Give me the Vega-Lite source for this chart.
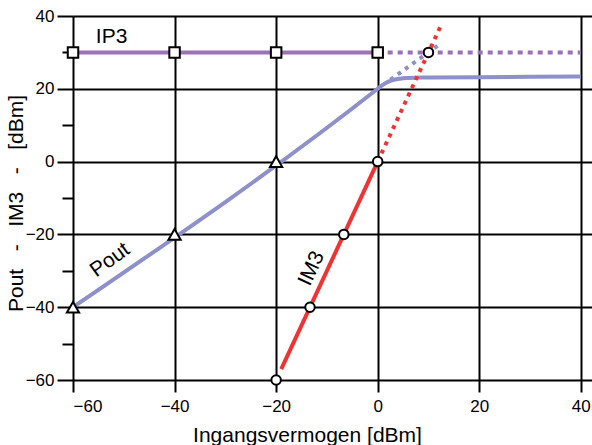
{
  "$schema": "https://vega.github.io/schema/vega-lite/v6.json",
  "autosize": "none",
  "width": 519,
  "height": 364,
  "padding": {"left": 73, "top": 16, "right": 0, "bottom": 65},
  "background": "white",
  "config": {
    "font": "Liberation Sans",
    "view": {"stroke": null}
  },
  "datasets": {
    "lines": [
      {"s": "ip3_solid", "x": -60, "y": 30}, {"s": "ip3_solid", "x": 0, "y": 30},
      {"s": "ip3_dot", "x": 0, "y": 30}, {"s": "ip3_dot", "x": 40, "y": 30},
      {"s": "pout_solid", "x": -60, "y": -40}, {"s": "pout_solid", "x": 0, "y": 20},
      {"s": "pout_solid", "x": 1, "y": 21.1}, {"s": "pout_solid", "x": 2, "y": 21.9},
      {"s": "pout_solid", "x": 3, "y": 22.4}, {"s": "pout_solid", "x": 4, "y": 22.7},
      {"s": "pout_solid", "x": 6, "y": 23.0}, {"s": "pout_solid", "x": 10, "y": 23.1},
      {"s": "pout_solid", "x": 20, "y": 23.2}, {"s": "pout_solid", "x": 40, "y": 23.4},
      {"s": "pout_dot", "x": 2.5, "y": 22.5}, {"s": "pout_dot", "x": 12.4, "y": 32.4},
      {"s": "im3_solid", "x": -19, "y": -57}, {"s": "im3_solid", "x": 0, "y": 0},
      {"s": "im3_dot", "x": 0, "y": 0}, {"s": "im3_dot", "x": 12.6, "y": 37.8}
    ],
    "points": [
      {"s": "square", "x": -60, "y": 30}, {"s": "square", "x": -40, "y": 30},
      {"s": "square", "x": -20, "y": 30}, {"s": "square", "x": 0, "y": 30},
      {"s": "triangle", "x": -60, "y": -40}, {"s": "triangle", "x": -40, "y": -20},
      {"s": "triangle", "x": -20, "y": 0},
      {"s": "circle", "x": -20, "y": -60}, {"s": "circle", "x": -13.33, "y": -40},
      {"s": "circle", "x": -6.67, "y": -20}, {"s": "circle", "x": 0, "y": 0},
      {"s": "circle", "x": 10, "y": 30}
    ],
    "labels": [
      {"t": "IP3", "x": -52.4, "y": 34.3, "a": 0},
      {"t": "Pout", "x": -52.7, "y": -27.1, "a": -36},
      {"t": "IM3", "x": -13, "y": -29.4, "a": -65}
    ]
  },
  "encoding": {
    "x": {
      "field": "x", "type": "quantitative",
      "scale": {"domain": [-60, 42.2], "nice": false, "zero": false},
      "axis": {
        "values": [-60, -40, -20, 0, 20, 40],
        "title": "Ingangsvermogen [dBm]",
        "titleFontSize": 21, "titleFontWeight": "normal", "titleColor": "black",
        "titleX": 234, "titleY": 61, "titleBaseline": "alphabetic",
        "labelFontSize": 17, "labelColor": "black", "labelPadding": 6,
        "tickSize": 12, "tickWidth": 2, "tickColor": "black",
        "grid": true, "gridColor": "black", "gridWidth": 2, "gridOpacity": 1,
        "domain": false
      }
    },
    "y": {
      "field": "y", "type": "quantitative",
      "scale": {"domain": [-60, 40], "nice": false, "zero": false},
      "axis": {
        "values": [-60, -50, -40, -30, -20, -10, 0, 10, 20, 30, 40],
        "labelExpr": "datum.value % 20 == 0 ? datum.label : ''",
        "title": "Pout\u00a0\u00a0\u00a0-\u00a0\u00a0\u00a0IM3\u00a0\u00a0\u00a0-\u00a0\u00a0\u00a0[dBm]",
        "titleFontSize": 21, "titleFontWeight": "normal", "titleColor": "black",
        "titleX": -57, "titleY": 187, "titleAngle": -90, "titleBaseline": "middle", "titleAlign": "center",
        "labelFontSize": 17, "labelColor": "black", "labelPadding": 3,
        "tickSize": {"condition": {"test": "datum.value % 20 == 0", "value": 16}, "value": 11},
        "tickWidth": 2, "tickColor": "black",
        "grid": true, "gridColor": "black", "gridWidth": 2,
        "gridOpacity": {"condition": {"test": "datum.value % 20 == 0", "value": 1}, "value": 0},
        "domain": false
      }
    }
  },
  "layer": [
    {
      "data": {"name": "lines"},
      "transform": [{"filter": "datum.s == 'ip3_solid'"}],
      "mark": {"type": "line", "color": "#9b72b5", "strokeWidth": 4}
    },
    {
      "data": {"name": "lines"},
      "transform": [{"filter": "datum.s == 'ip3_dot'"}],
      "mark": {"type": "line", "color": "#9b72b5", "strokeWidth": 4, "strokeDash": [5, 5]}
    },
    {
      "data": {"name": "lines"},
      "transform": [{"filter": "datum.s == 'pout_dot'"}],
      "mark": {"type": "line", "color": "#8d90c9", "strokeWidth": 4, "strokeDash": [4, 5]}
    },
    {
      "data": {"name": "lines"},
      "transform": [{"filter": "datum.s == 'pout_solid'"}],
      "mark": {"type": "line", "color": "#8d90c9", "strokeWidth": 4, "interpolate": "monotone"}
    },
    {
      "data": {"name": "lines"},
      "transform": [{"filter": "datum.s == 'im3_solid'"}],
      "mark": {"type": "line", "color": "#f03232", "strokeWidth": 4}
    },
    {
      "data": {"name": "lines"},
      "transform": [{"filter": "datum.s == 'im3_dot'"}],
      "mark": {"type": "line", "color": "#f03232", "strokeWidth": 4, "strokeDash": [4, 5]}
    },
    {
      "data": {"name": "points"},
      "transform": [{"filter": "datum.s == 'square'"}],
      "mark": {"type": "point", "shape": "square", "size": 110, "filled": true, "fill": "white", "stroke": "black", "strokeWidth": 2, "opacity": 1}
    },
    {
      "data": {"name": "points"},
      "transform": [{"filter": "datum.s == 'triangle'"}],
      "mark": {"type": "point", "shape": "triangle-up", "size": 150, "filled": true, "fill": "white", "stroke": "black", "strokeWidth": 2, "opacity": 1}
    },
    {
      "data": {"name": "points"},
      "transform": [{"filter": "datum.s == 'circle'"}],
      "mark": {"type": "point", "shape": "circle", "size": 90, "filled": true, "fill": "white", "stroke": "black", "strokeWidth": 2, "opacity": 1}
    },
    {
      "data": {"name": "labels"},
      "mark": {"type": "text", "fontSize": 21, "color": "black", "align": "center", "baseline": "middle"},
      "encoding": {
        "text": {"field": "t"},
        "angle": {"field": "a", "type": "quantitative", "scale": null}
      }
    }
  ]
}
